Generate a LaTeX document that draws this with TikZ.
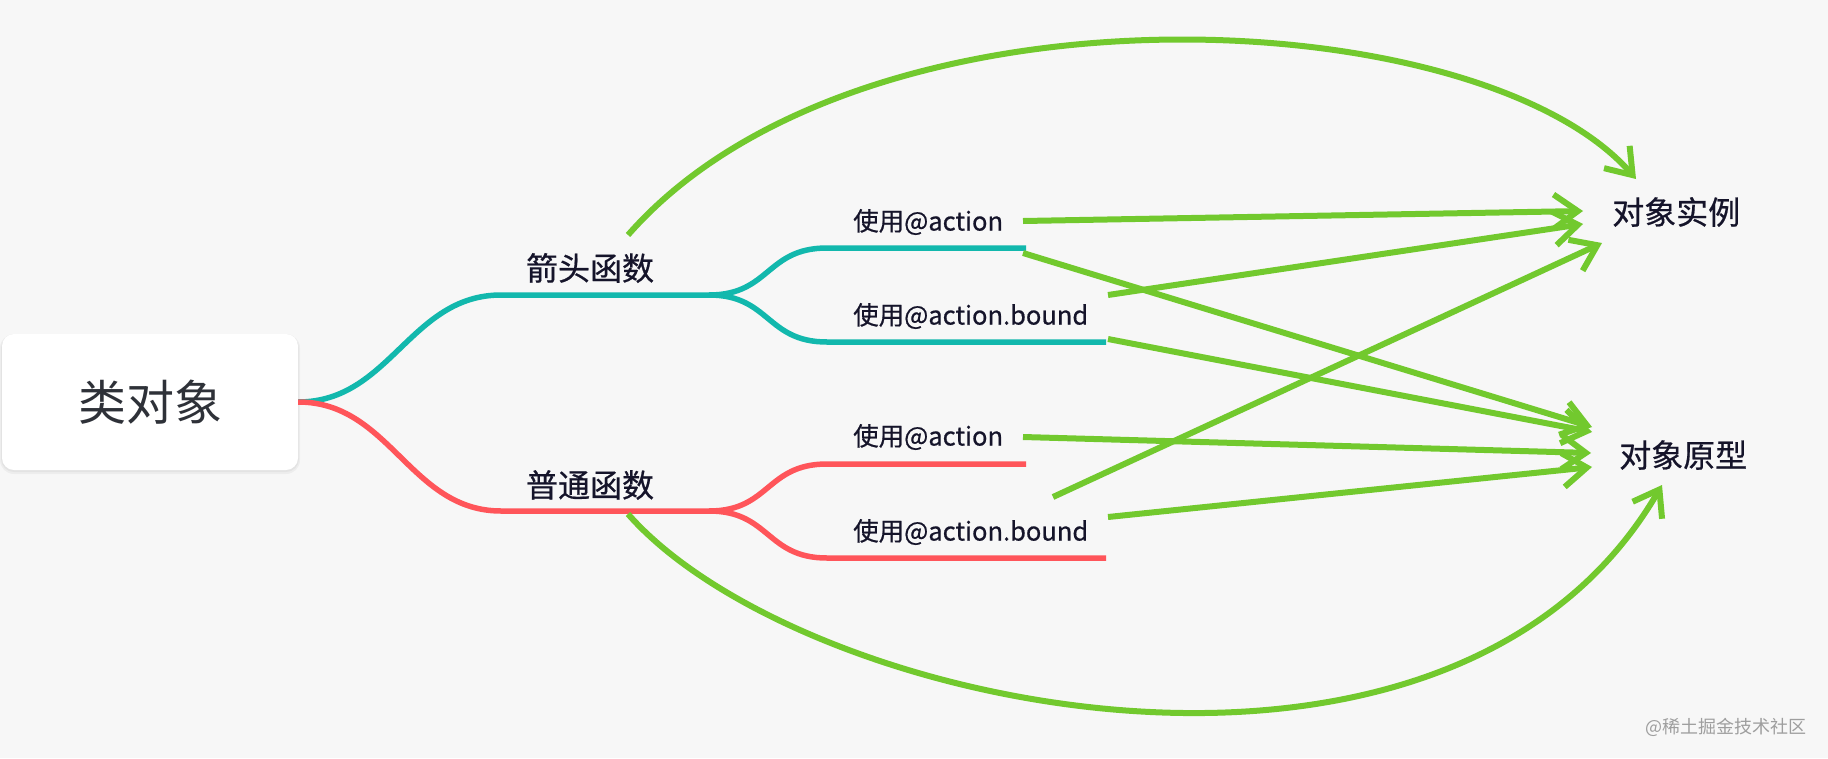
\documentclass[tikz,border=0pt]{standalone}
\usepackage{fontspec}
\setmainfont{Noto Sans CJK SC}
\newfontfamily\lblfont[FakeBold=0.6]{Noto Sans CJK SC}
\usetikzlibrary{arrows.meta}
\definecolor{bg}{HTML}{F7F7F7}
\definecolor{tealc}{HTML}{12B8AD}
\definecolor{redc}{HTML}{FF555A}
\definecolor{greenc}{HTML}{72C92E}
\definecolor{ink}{HTML}{15142A}
\definecolor{rootink}{HTML}{2E3138}
\begin{document}
\begin{tikzpicture}[x=1pt,y=-1pt,
  branch/.style={line width=5.5pt},
  link/.style={greenc, line width=6pt, -{Straight Barb[length=24pt,width=34pt]}},
  lbl/.style={inner sep=0pt, text=ink, font=\lblfont\fontsize{25.5}{30}\selectfont},
  mid/.style={inner sep=0pt, text=ink, font=\lblfont\fontsize{32}{38}\selectfont},
  tgt/.style={inner sep=0pt, text=ink, font=\lblfont\fontsize{32}{38}\selectfont, anchor=west}]
\fill[bg] (0,0) rectangle (1828,758);
\useasboundingbox (0,0) rectangle (1828,758);
% root box with soft shadow
\fill[black, opacity=0.04, rounded corners=14pt] (0,334) rectangle (300,474);
\fill[black, opacity=0.04, rounded corners=13pt] (1,335) rectangle (299,472);
\node[fill=white, rounded corners=12pt, minimum width=296pt, minimum height=136pt, inner sep=0pt,
      text=rootink, font=\fontsize{48}{56}\selectfont] (root) at (150,402) {类对象};
% junctions and ends
\coordinate (tj) at (709,295);
\coordinate (rj) at (709,511);
\coordinate (ta1) at (1026,248);
\coordinate (tb1) at (1106,342);
\coordinate (ra1) at (1026,464);
\coordinate (rb1) at (1106,558);
% teal branch
\draw[branch, tealc] (root.east) .. controls (390,402) and (410,295) .. (501,295) -- (tj);
\draw[branch, tealc] (tj) .. controls (770,295) and (766,248) .. (827,248) -- (ta1);
\draw[branch, tealc] (tj) .. controls (770,295) and (766,342) .. (827,342) -- (tb1);
% red branch
\draw[branch, redc] (root.east) .. controls (390,402) and (410,511) .. (501,511) -- (rj);
\draw[branch, redc] (rj) .. controls (770,511) and (766,464) .. (827,464) -- (ra1);
\draw[branch, redc] (rj) .. controls (770,511) and (766,558) .. (827,558) -- (rb1);
% labels
\node[mid] (arrowfn) at (590,268) {箭头函数};
\node[mid] (normfn) at (590,485) {普通函数};
\node[lbl, anchor=west] (ta) at (853,222) {使用@action};
\node[lbl, anchor=west] (tb) at (853,316) {使用@action.bound};
\node[lbl, anchor=west] (ra) at (853,437) {使用@action};
\node[lbl, anchor=west] (rb) at (853,532) {使用@action.bound};
\node[tgt] (inst) at (1612,212) {对象实例};
\node[tgt] (proto) at (1619,455) {对象原型};
\node[anchor=west, inner sep=0pt, text=black!38, font=\fontsize{18}{22}\selectfont] (wm) at (1645,727) {@稀土掘金技术社区};
% arrow start / end points
\coordinate (sTop) at (628,235);
\coordinate (eTop) at (1636,179);
\coordinate (sBot) at (628,514);
\coordinate (eBot) at (1662,485);
\coordinate (sA) at (1023,221);  \coordinate (eA) at (1583,211);
\coordinate (sB) at (1023,253);  \coordinate (eB) at (1592,427);
\coordinate (sC) at (1108,295);  \coordinate (eC) at (1583,224);
\coordinate (sD) at (1108,339);  \coordinate (eD) at (1592,432);
\coordinate (sE) at (1023,437);  \coordinate (eE) at (1591,453);
\coordinate (sF) at (1053,497);  \coordinate (eF) at (1602,243);
\coordinate (sG) at (1108,517);  \coordinate (eG) at (1592,467);
% green links
\draw[link] (sTop) .. controls (860,-30) and (1480,0) .. (eTop);
\draw[link] (sBot) .. controls (800,710) and (1450,850) .. (eBot);
\draw[link] (sA) -- (eA);
\draw[link] (sB) -- (eB);
\draw[link] (sC) -- (eC);
\draw[link] (sD) -- (eD);
\draw[link] (sE) -- (eE);
\draw[link] (sF) -- (eF);
\draw[link] (sG) -- (eG);
\end{tikzpicture}
\end{document}
